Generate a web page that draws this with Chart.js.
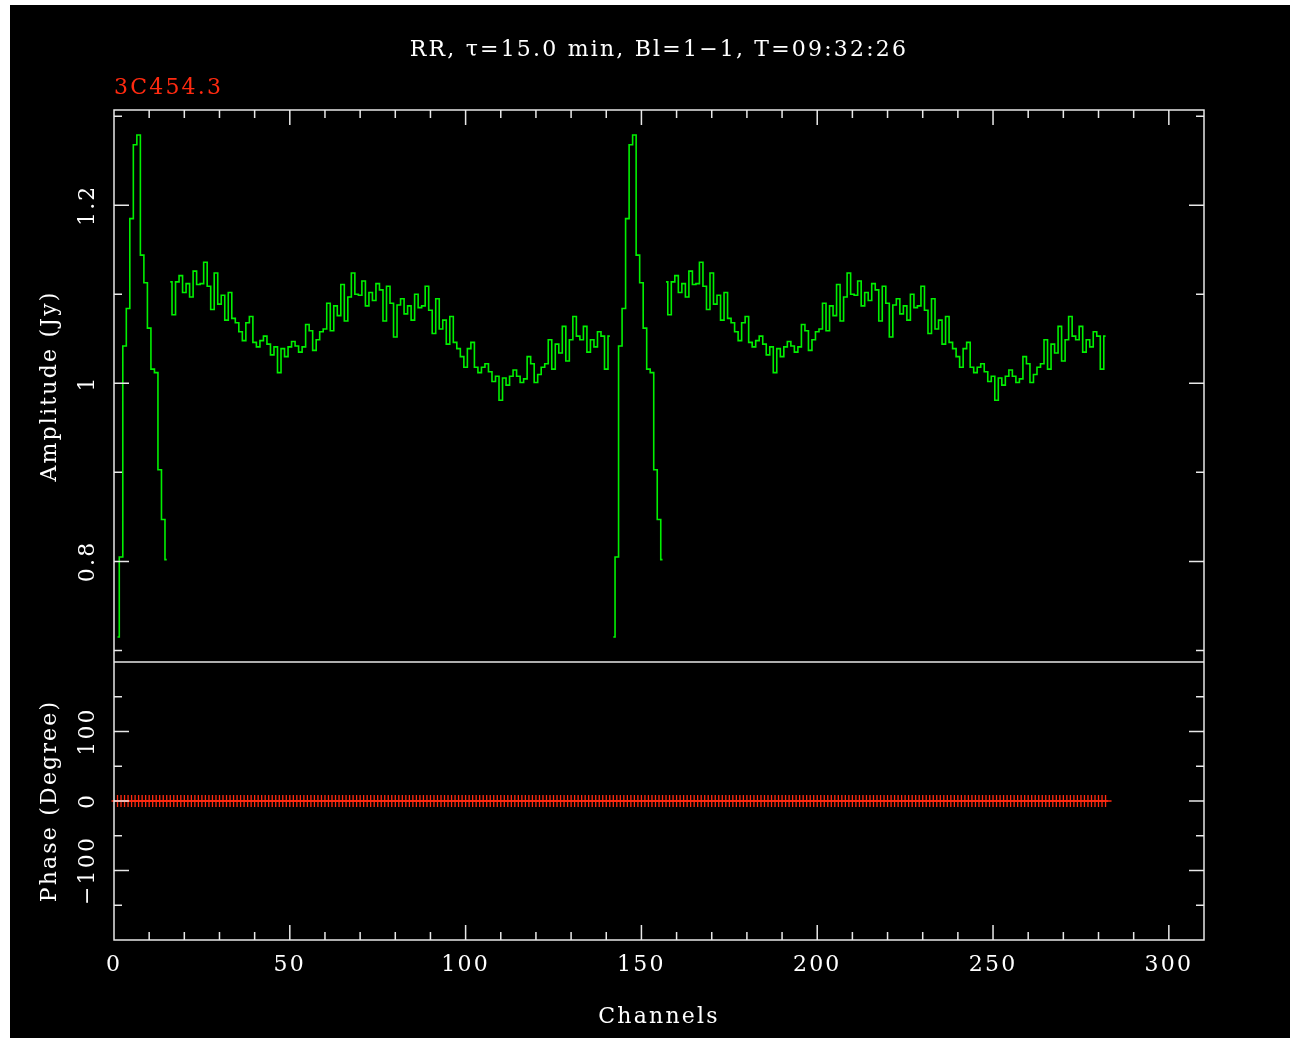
<!DOCTYPE html>
<html><head><meta charset="utf-8">
<script src="https://cdn.jsdelivr.net/npm/chart.js@4.4.1/dist/chart.umd.min.js"></script>
<style>
html,body{margin:0;padding:0;background:#fff;overflow:hidden;}
#c{position:absolute;left:0;top:0;}
</style></head><body>
<canvas id="c" width="1291" height="1040"></canvas>
<script>
const titleText = 'RR, \u03c4=15.0 min, Bl=1\u22121, T=09:32:26';
const sourceName = '3C454.3';
const xTitle = 'Channels';
const ampTitle = 'Amplitude (Jy)';
const phaseTitle = 'Phase (Degree)';
const xTickValues = [0, 50, 100, 150, 200, 250, 300];
const ampTickValues = [0.8, 1.0, 1.2];
const ampTickLabels = ['0.8', '1', '1.2'];
const phaseTickValues = [-100, 0, 100];
const phaseTickLabels = ['\u2212100', '0', '100'];

// first channel of each contiguous amplitude segment
const segmentStarts = [1, 16, 142, 157];
// channels 1-15
const ampSpikeA = [0.715, 0.805, 1.042, 1.084, 1.185, 1.268, 1.279, 1.144, 1.113, 1.062, 1.016, 1.012, 0.903, 0.847, 0.802];
// channels 16-141
const ampBandA = [
  1.114, 1.077, 1.114, 1.121, 1.102, 1.112, 1.097, 1.126, 1.111, 1.112,
  1.136, 1.109, 1.083, 1.124, 1.089, 1.099, 1.071, 1.102, 1.073, 1.068,
  1.058, 1.048, 1.068, 1.075, 1.046, 1.041, 1.048, 1.053, 1.044, 1.032,
  1.041, 1.012, 1.039, 1.030, 1.041, 1.047, 1.042, 1.035, 1.041, 1.066,
  1.059, 1.037, 1.049, 1.058, 1.061, 1.090, 1.059, 1.087, 1.076, 1.111,
  1.070, 1.097, 1.124, 1.100, 1.099, 1.115, 1.087, 1.102, 1.093, 1.112,
  1.105, 1.070, 1.109, 1.090, 1.052, 1.088, 1.095, 1.078, 1.087, 1.071,
  1.100, 1.085, 1.087, 1.109, 1.082, 1.056, 1.095, 1.061, 1.071, 1.044,
  1.075, 1.046, 1.039, 1.030, 1.018, 1.039, 1.046, 1.018, 1.012, 1.018,
  1.022, 1.013, 1.002, 1.008, 0.981, 1.006, 0.998, 1.008, 1.015, 1.008,
  1.001, 1.005, 1.030, 1.022, 1.001, 1.010, 1.018, 1.022, 1.049, 1.016,
  1.044, 1.034, 1.064, 1.025, 1.049, 1.075, 1.053, 1.049, 1.064, 1.035,
  1.049, 1.041, 1.058, 1.053, 1.016, 1.053
];
// channels 142-156
const ampSpikeB = [0.715, 0.805, 1.042, 1.084, 1.185, 1.268, 1.279, 1.144, 1.113, 1.062, 1.016, 1.012, 0.903, 0.847, 0.802];
// channels 157-282
const ampBandB = [
  1.114, 1.077, 1.114, 1.121, 1.102, 1.112, 1.097, 1.126, 1.111, 1.112,
  1.136, 1.109, 1.083, 1.124, 1.089, 1.099, 1.071, 1.102, 1.073, 1.068,
  1.058, 1.048, 1.068, 1.075, 1.046, 1.041, 1.048, 1.053, 1.044, 1.032,
  1.041, 1.012, 1.039, 1.030, 1.041, 1.047, 1.042, 1.035, 1.041, 1.066,
  1.059, 1.037, 1.049, 1.058, 1.061, 1.090, 1.059, 1.087, 1.076, 1.111,
  1.070, 1.097, 1.124, 1.100, 1.099, 1.115, 1.087, 1.102, 1.093, 1.112,
  1.105, 1.070, 1.109, 1.090, 1.052, 1.088, 1.095, 1.078, 1.087, 1.071,
  1.100, 1.085, 1.087, 1.109, 1.082, 1.056, 1.095, 1.061, 1.071, 1.044,
  1.075, 1.046, 1.039, 1.030, 1.018, 1.039, 1.046, 1.018, 1.012, 1.018,
  1.022, 1.013, 1.002, 1.008, 0.981, 1.006, 0.998, 1.008, 1.015, 1.008,
  1.001, 1.005, 1.030, 1.022, 1.001, 1.010, 1.018, 1.022, 1.049, 1.016,
  1.044, 1.034, 1.064, 1.025, 1.049, 1.075, 1.053, 1.049, 1.064, 1.035,
  1.049, 1.041, 1.058, 1.053, 1.016, 1.053
];
// phase of channels 1-282 (degrees)
const phaseValues = [
  0,0,0,0,0,0,0,0,0,0,0,0,0,0,0,0,0,0,0,0,
  0,0,0,0,0,0,0,0,0,0,0,0,0,0,0,0,0,0,0,0,
  0,0,0,0,0,0,0,0,0,0,0,0,0,0,0,0,0,0,0,0,
  0,0,0,0,0,0,0,0,0,0,0,0,0,0,0,0,0,0,0,0,
  0,0,0,0,0,0,0,0,0,0,0,0,0,0,0,0,0,0,0,0,
  0,0,0,0,0,0,0,0,0,0,0,0,0,0,0,0,0,0,0,0,
  0,0,0,0,0,0,0,0,0,0,0,0,0,0,0,0,0,0,0,0,
  0,0,0,0,0,0,0,0,0,0,0,0,0,0,0,0,0,0,0,0,
  0,0,0,0,0,0,0,0,0,0,0,0,0,0,0,0,0,0,0,0,
  0,0,0,0,0,0,0,0,0,0,0,0,0,0,0,0,0,0,0,0,
  0,0,0,0,0,0,0,0,0,0,0,0,0,0,0,0,0,0,0,0,
  0,0,0,0,0,0,0,0,0,0,0,0,0,0,0,0,0,0,0,0,
  0,0,0,0,0,0,0,0,0,0,0,0,0,0,0,0,0,0,0,0,
  0,0,0,0,0,0,0,0,0,0,0,0,0,0,0,0,0,0,0,0,
  0,0
];
const phaseFirstChannel = 1;

// ---- build library data ----
const ampSegments = [ampSpikeA, ampBandA, ampSpikeB, ampBandB];
const ampPoints = [];
ampSegments.forEach((seg, k) => {
  if (k > 0) ampPoints.push({x: segmentStarts[k] - 0.5, y: null});
  seg.forEach((v, i) => ampPoints.push({x: segmentStarts[k] + i, y: v}));
});
const phasePoints = phaseValues.map((v, i) => ({x: phaseFirstChannel + i, y: v}));

const FONT = "'DejaVu Serif', 'Liberation Serif', serif";
const SPACING = '2.2px';
const WHITE = '#ffffff';
const RED = '#ff2a10';

const framePlugin = {
  id: 'frames',
  beforeLayout(chart) { chart.ctx.letterSpacing = SPACING; },
  beforeDraw(chart) {
    const ctx = chart.ctx;
    ctx.save();
    ctx.fillStyle = '#ffffff';
    ctx.fillRect(0, 0, chart.width, chart.height);
    ctx.fillStyle = '#000000';
    ctx.fillRect(10, 5, 1280, 1033);
    ctx.restore();
    ctx.letterSpacing = SPACING;
  },
  afterDraw(chart) {
    const ctx = chart.ctx;
    const xs = chart.scales.x, ya = chart.scales.yAmp, yp = chart.scales.yPhase;
    const L = xs.left, R = xs.right;
    ctx.save();
    ctx.strokeStyle = '#e8e8e8';
    ctx.lineWidth = 1.5;
    ctx.beginPath();
    [ya, yp].forEach(s => { ctx.rect(L, s.top, R - L, s.bottom - s.top); });
    // x ticks on the outer top and bottom edges
    for (let v = 0; v <= xs.max + 1e-9; v += 10) {
      const px = xs.getPixelForValue(v);
      const len = (v % 50 === 0) ? 15 : 8;
      ctx.moveTo(px, ya.top); ctx.lineTo(px, ya.top + len);
      ctx.moveTo(px, yp.bottom); ctx.lineTo(px, yp.bottom - len);
    }
    // y ticks amplitude
    for (let i = 7; i <= 13; i++) {
      const v = i / 10;
      if (v < ya.min || v > ya.max) continue;
      const py = ya.getPixelForValue(v);
      const len = (i % 2 === 0) ? 15 : 8;
      ctx.moveTo(L, py); ctx.lineTo(L + len, py);
      ctx.moveTo(R, py); ctx.lineTo(R - len, py);
    }
    // y ticks phase
    for (let v = -150; v <= 150; v += 50) {
      const py = yp.getPixelForValue(v);
      const len = (v % 100 === 0) ? 15 : 8;
      ctx.moveTo(L, py); ctx.lineTo(L + len, py);
      ctx.moveTo(R, py); ctx.lineTo(R - len, py);
    }
    ctx.stroke();
    // rotated y tick labels
    ctx.fillStyle = WHITE;
    ctx.font = '22px ' + FONT;
    ctx.letterSpacing = SPACING;
    ctx.textAlign = 'center';
    ctx.textBaseline = 'middle';
    const drawRot = (s, vals, labs) => {
      vals.forEach((v, i) => {
        const py = s.getPixelForValue(v);
        ctx.save();
        ctx.translate(L - 26, py);
        ctx.rotate(-Math.PI / 2);
        ctx.fillText(labs[i], 0, 0);
        ctx.restore();
      });
    };
    drawRot(ya, ampTickValues, ampTickLabels);
    drawRot(yp, phaseTickValues, phaseTickLabels);
    ctx.restore();
  }
};

const baseFont = {family: FONT, size: 22, weight: 'normal', lineHeight: 1.2};

new Chart(document.getElementById('c').getContext('2d'), {
  type: 'line',
  data: {
    datasets: [
      {
        label: 'Amplitude',
        data: ampPoints,
        yAxisID: 'yAmp',
        borderColor: '#00f000',
        borderWidth: 1.6,
        stepped: 'middle',
        pointRadius: 0,
        spanGaps: false,
        fill: false
      },
      {
        label: 'Phase',
        data: phasePoints,
        yAxisID: 'yPhase',
        showLine: false,
        pointStyle: 'cross',
        pointRadius: 6,
        borderColor: RED,
        borderWidth: 1.3,
        clip: false
      }
    ]
  },
  options: {
    responsive: false,
    animation: false,
    devicePixelRatio: 1,
    events: [],
    layout: {padding: {left: 10, right: 87, top: 0, bottom: 0}},
    plugins: {
      legend: {display: false},
      tooltip: {enabled: false},
      title: {
        display: true, text: titleText, color: WHITE, font: baseFont,
        padding: {top: 37, bottom: 10}, fullSize: false
      },
      subtitle: {
        display: true, text: sourceName, color: RED, align: 'start', font: baseFont,
        padding: {top: 2, bottom: 8.2}, fullSize: false
      }
    },
    scales: {
      x: {
        type: 'linear', position: 'bottom', min: 0, max: 310,
        grid: {display: false}, border: {display: false},
        afterBuildTicks: s => { s.ticks = xTickValues.map(v => ({value: v})); },
        ticks: {color: WHITE, font: baseFont, padding: 4, maxRotation: 0, minRotation: 0, callback: v => String(v)},
        title: {display: true, text: xTitle, color: WHITE, font: baseFont, padding: {top: 0, bottom: 10}},
        afterFit: s => { s.height = 100; }
      },
      yPhase: {
        type: 'linear', position: 'left', stack: 'panels', stackWeight: 278,
        min: -200, max: 200,
        grid: {display: false}, border: {display: false},
        ticks: {display: false},
        title: {display: true, text: phaseTitle, color: WHITE, font: baseFont, padding: {top: 26.8, bottom: 0}},
        afterFit: s => { s.width = 104; }
      },
      yAmp: {
        type: 'linear', position: 'left', stack: 'panels', stackWeight: 552,
        min: 0.687, max: 1.307,
        grid: {display: false}, border: {display: false},
        ticks: {display: false},
        title: {display: true, text: ampTitle, color: WHITE, font: baseFont, padding: {top: 26.8, bottom: 0}},
        afterFit: s => { s.width = 104; }
      }
    }
  },
  plugins: [framePlugin]
});
</script>
</body></html>
